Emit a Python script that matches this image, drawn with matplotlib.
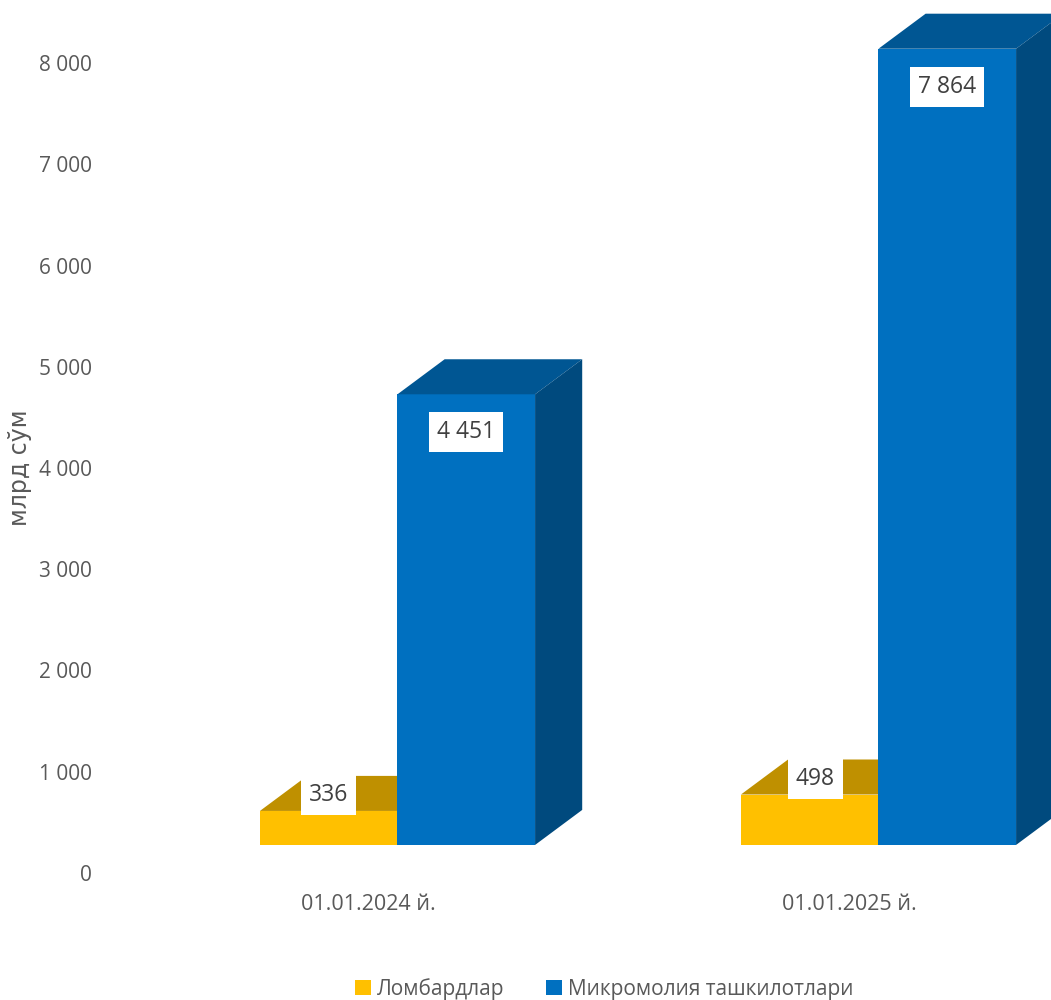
import matplotlib.pyplot as plt
from matplotlib.patches import Rectangle, Polygon, Patch

# Data
categories = ["01.01.2024 й.", "01.01.2025 й."]
series_names = ["Ломбардлар", "Микромолия ташкилотлари"]
lombard = [336, 498]
micro = [4451, 7864]

# Style
plt.rcParams["font.family"] = ["Open Sans", "DejaVu Sans"]
GRAY = "#595959"
YELLOW = ("#FFC000", "#BF9000", "#A67C00")   # front, top, side
BLUE = ("#0070C0", "#005693", "#004A7E")

BASE = 277      # front-face baseline (perspective offset)
DX = 0.098      # depth in x units
DY = 346        # depth in y units
BAR_W = 0.286
PX = 0.10125    # pixels per y unit


def bar3d(ax, x0, v, colors):
    front, top, side = colors
    y1 = BASE + v
    ax.add_patch(Rectangle((x0, BASE), BAR_W, v, facecolor=front,
                           edgecolor="none", clip_on=False))
    ax.add_patch(Polygon([(x0, y1), (x0 + DX, y1 + DY), (x0 + BAR_W + DX, y1 + DY),
                          (x0 + BAR_W, y1)], closed=True, facecolor=top,
                         edgecolor="none", clip_on=False))
    ax.add_patch(Polygon([(x0 + BAR_W, BASE), (x0 + BAR_W + DX, BASE + DY),
                          (x0 + BAR_W + DX, y1 + DY), (x0 + BAR_W, y1)], closed=True,
                         facecolor=side, edgecolor="none", clip_on=False))


def fmt(v):
    return f"{v:,}".replace(",", " ")


fig = plt.figure(figsize=(10.51, 10.0), dpi=100)
ax = fig.add_axes([100 / 1051, 0.127, 951 / 1051, 0.81])
ax.set_xlim((100 - 397.5) / 481, (1051 - 397.5) / 481)
ax.set_ylim(0, 8000)

box = dict(boxstyle="square,pad=0.35", facecolor="white", edgecolor="none")
for i, c in enumerate(range(len(categories))):
    # yellow first, blue in front of its hidden side
    bar3d(ax, c - BAR_W, lombard[i], YELLOW)
    bar3d(ax, c, micro[i], BLUE)
    ax.text(c - BAR_W / 2 + 0.012 * i, BASE + lombard[i] + 16 / PX, fmt(lombard[i]),
            ha="center", va="center", fontsize=16.5, color="#404040", bbox=box)
    ax.text(c + BAR_W / 2, BASE + micro[i] - 38 / PX, fmt(micro[i]),
            ha="center", va="center", fontsize=16.5, color="#404040", bbox=box)
    ax.text(c - 0.06, -32 / PX, categories[i], ha="center", va="center",
            fontsize=15.5, color=GRAY, clip_on=False)

ax.set_yticks(range(0, 8001, 1000))
ax.set_yticklabels([fmt(t) for t in range(0, 8001, 1000)])
ax.tick_params(axis="y", length=0, pad=6, labelsize=15, labelcolor=GRAY)
ax.set_xticks([])
for s in ax.spines.values():
    s.set_visible(False)
ax.set_ylabel("млрд сўм", fontsize=17, color=GRAY,
              family=["Liberation Sans Narrow", "DejaVu Sans"])
ax.yaxis.set_label_coords(-68 / 951, 0.5)

handles = [Patch(facecolor=YELLOW[0]), Patch(facecolor=BLUE[0])]
fig.legend(handles, series_names, loc="center", bbox_to_anchor=(0.575, 0.011),
           ncol=2, frameon=False, fontsize=15, labelcolor=GRAY,
           handlelength=0.75, handleheight=0.75, handletextpad=0.3,
           columnspacing=2.0)

fig.savefig("out.png", dpi=100, facecolor="white")
plt.close(fig)
